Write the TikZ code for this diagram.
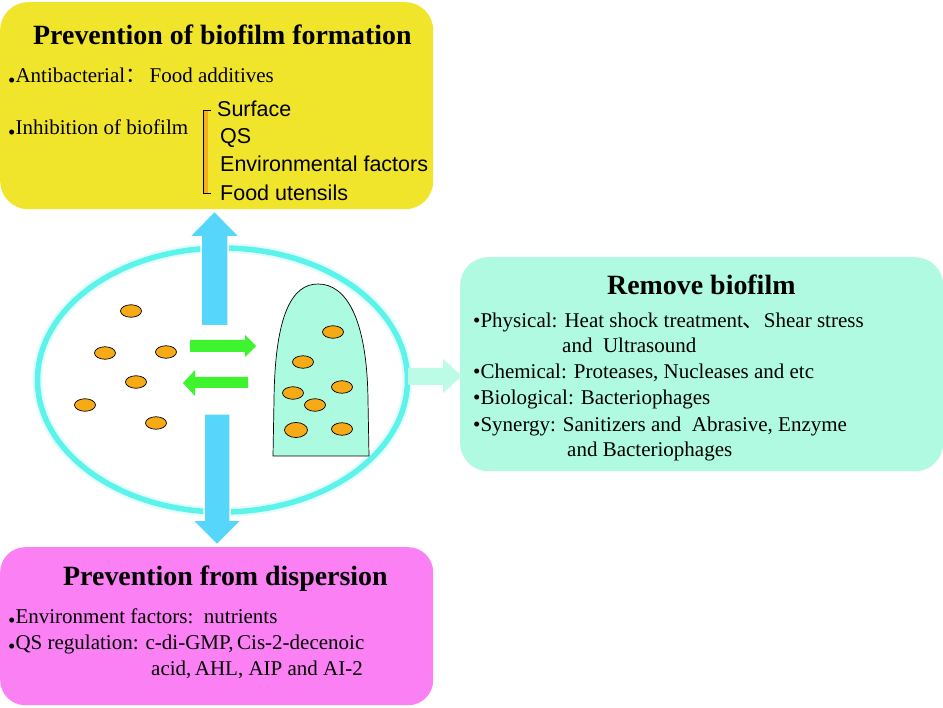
\documentclass[tikz,border=0pt]{standalone}
\usepackage{fontspec}
\setmainfont{Liberation Serif}
\newfontfamily\arialf{Liberation Sans}
\newfontfamily\cjkf{Noto Sans CJK SC}
\usetikzlibrary{shapes.geometric}
\definecolor{boxyellow}{RGB}{240,229,42}
\definecolor{boxpink}{RGB}{250,128,244}
\definecolor{boxmint}{RGB}{176,250,226}
\definecolor{ringcyan}{RGB}{92,244,234}
\definecolor{arrowblue}{RGB}{86,214,250}
\definecolor{arrowgreen}{RGB}{62,244,46}
\definecolor{cellorange}{RGB}{246,170,22}
\definecolor{filmmint}{RGB}{172,250,224}
\definecolor{brorange}{RGB}{246,176,30}
\newcommand{\lowbul}{\raisebox{-0.2em}{•}}
\begin{document}
\begin{tikzpicture}[x=1pt,y=-1pt,
  panel/.style={rectangle, rounded corners=28pt, draw=none, anchor=north west, inner sep=0pt},
  ttl/.style={anchor=base west, inner sep=0pt, font=\fontsize{27.9}{30}\selectfont\bfseries},
  txt/.style={anchor=base west, inner sep=0pt, font=\fontsize{21}{25}\selectfont},
  sans/.style={anchor=base west, inner sep=0pt, font=\fontsize{21.5}{25}\selectfont\arialf},
  cell/.style={ellipse, draw=black, line width=0.7pt, fill=cellorange, minimum width=21pt, minimum height=12.5pt, inner sep=0pt},
  bigcell/.style={cell, minimum width=23pt, minimum height=15pt},
  blockarrow/.style={draw=white, line width=1.5pt, fill=arrowblue}
]
\useasboundingbox (0,0) rectangle (943,708);
\fill[white] (0,0) rectangle (943,708);

% panels
\node[panel, fill=boxyellow, minimum width=433pt, minimum height=207pt] (top) at (0,2) {};
\node[panel, fill=boxmint, minimum width=483pt, minimum height=214pt] (right) at (460,257) {};
\node[panel, fill=boxpink, minimum width=433pt, minimum height=158pt, rounded corners=25pt] (bottom) at (0,547) {};

% top panel text
\node[ttl] (ttop) at (33,45) {Prevention of biofilm formation};
\node[txt] (anti) at (8,83) {\lowbul Antibacterial{\cjkf ：}\,Food additives};
\node[txt] (inhib) at (8,135) {\lowbul Inhibition of biofilm};
\fill[brorange] (203.5,110) rectangle (207.5,193);
\draw[black, line width=0.6pt] (211,110) -- (203.5,110) -- (203.5,193) -- (211,193);
\node[sans] (surf) at (217,117) {Surface};
\node[sans] (qs) at (220,144) {QS};
\node[sans] (env) at (220,172) {Environmental factors};
\node[sans] (uten) at (220,201) {Food utensils};

% right panel text
\node[ttl] (tright) at (607,295) {Remove biofilm};
\node[txt] (phys) at (473,328) {•Physical: Heat shock treatment{\cjkf 、}Shear stress};
\node[txt] (phys2) at (562,353) {and\ \ Ultrasound};
\node[txt] (chem) at (473,379) {•Chemical: Proteases, Nucleases and etc};
\node[txt] (bio) at (473,405) {•Biological: Bacteriophages};
\node[txt] (syn) at (473,432) {•Synergy: Sanitizers and\ \ Abrasive, Enzyme};
\node[txt] (syn2) at (567,457) {and Bacteriophages};

% bottom panel text
\node[ttl] (tbottom) at (63,585) {Prevention from dispersion};
\node[txt] (envf) at (8,623) {\lowbul Environment factors:\ \ nutrients};
\node[txt] (qsr) at (8,649) {\lowbul QS regulation: c-di-GMP,\,Cis-2-decenoic};
\node[txt] (qsr2) at (151,675) {acid,\,AHL, AIP and AI-2};

% ring
\node[ellipse, draw=ringcyan!18, line width=10pt, minimum width=370pt, minimum height=264pt, inner sep=0pt] (halo) at (222.5,380) {};
\node[ellipse, draw=ringcyan, line width=5.5pt, minimum width=370pt, minimum height=264pt, inner sep=0pt] (ring) at (222.5,380) {};

% biofilm
\draw[black, line width=0.7pt, fill=filmmint] (273,456) -- (274,400)
  .. controls (275,312) and (293,284) .. (318,284)
  .. controls (346,284) and (367,318) .. (368,400) -- (369,456) -- cycle;
\coordinate (film) at (320,380);

% blue arrows
\path[blockarrow] (201,326) -- (228,326) -- (228,237) -- (240,237) -- (214.5,211) -- (189,237) -- (201,237) -- cycle;
\path[blockarrow] (204,414) -- (230,414) -- (230,520) -- (242,520) -- (217,545) -- (192,520) -- (204,520) -- cycle;

% green arrows
\fill[arrowgreen] (190,340) -- (245,340) -- (245,335) -- (256,346) -- (245,357) -- (245,352) -- (190,352) -- cycle;
\fill[arrowgreen] (248,377) -- (195,377) -- (195,370) -- (183,383) -- (195,396) -- (195,388) -- (248,388) -- cycle;

% mint arrow to right panel
\fill[boxmint!85!white] (408,368) -- (443,368) -- (443,359) -- (462,376) -- (443,393) -- (443,385) -- (408,385) -- cycle;

% cells free
\node[cell] (c1) at (131,311) {};
\node[cell] (c2) at (105,353) {};
\node[cell] (c3) at (166,352) {};
\node[cell] (c4) at (136,382) {};
\node[cell] (c5) at (85,405) {};
\node[cell] (c6) at (156,423) {};
% cells in biofilm
\node[cell] (b1) at (333,332) {};
\node[cell] (b2) at (303,362) {};
\node[cell] (b3) at (293,393) {};
\node[cell] (b4) at (342,387) {};
\node[cell] (b5) at (315,405) {};
\node[bigcell] (b6) at (296,430) {};
\node[cell] (b7) at (342,429) {};
\end{tikzpicture}
\end{document}
